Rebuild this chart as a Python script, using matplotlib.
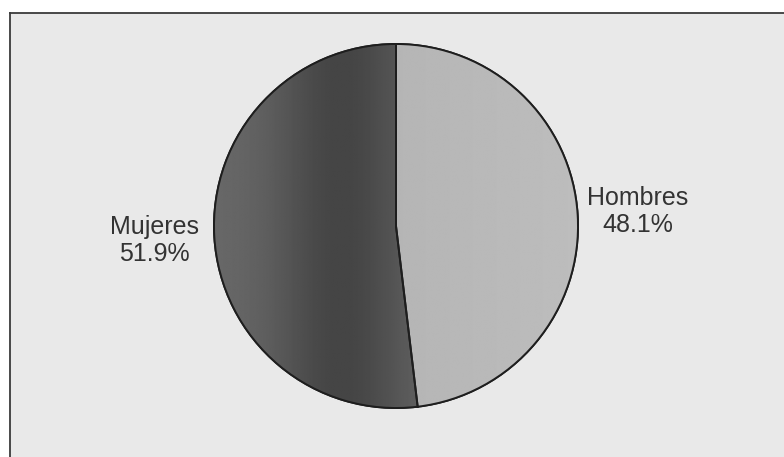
import matplotlib.pyplot as plt
import numpy as np

labels = ["Hombres", "Mujeres"]
values = [48.1, 51.9]
colors = ["#b6b6b6", "#555555"]

plt.rcParams["font.family"] = ["Liberation Sans", "DejaVu Sans"]

fig = plt.figure(figsize=(7.84, 4.57), dpi=100)
fig.patch.set_facecolor("white")

# gray panel with a border on top and left
panel = fig.add_axes([10 / 784, -0.01, 1.0, (457 - 13) / 457 + 0.01])
panel.set_facecolor("#e9e9e9")
panel.set_xticks([])
panel.set_yticks([])
for side in ["right", "bottom"]:
	panel.spines[side].set_visible(False)
for side in ["left", "top"]:
	panel.spines[side].set_linewidth(1.3)
	panel.spines[side].set_color("#3a3a3a")

ax = fig.add_axes([0, 0, 1, 1])
ax.set_xlim(0, 784)
ax.set_ylim(0, 457)
ax.set_aspect("equal")
ax.axis("off")
ax.patch.set_alpha(0)

cx, cy, r = 396, 231, 182
textLabels = ["%s\n%.1f%%" % (l, v) for l, v in zip(labels, values)]
wedges, texts = ax.pie(values, labels=textLabels, colors=colors, startangle=90,
	counterclock=False, center=(cx, cy), radius=r, labeldistance=1.33,
	wedgeprops=dict(edgecolor="#1e1e1e", linewidth=1.4),
	textprops=dict(fontsize=18, color="#333333", ha="center", linespacing=1.15))

# shading inside the wedges like the scanned original
xs = np.linspace(-1, 1, 300)
darkShade = 0.41 - 0.14 * np.exp(-((xs + 0.3) / 0.38) ** 2)
lightShade = 0.71 + 0.03 * xs
for w, shade in zip(wedges, [lightShade, darkShade]):
	img = np.tile(shade, (10, 1))
	im = ax.imshow(img, cmap="gray", vmin=0, vmax=1, extent=(cx - r, cx + r, cy - r, cy + r),
		aspect="auto", zorder=w.get_zorder() + 0.1, interpolation="bilinear")
	im.set_clip_path(w)
	edge = plt.matplotlib.patches.Wedge((cx, cy), r, w.theta1, w.theta2, fill=False,
		edgecolor="#1e1e1e", linewidth=1.4, zorder=w.get_zorder() + 0.2)
	ax.add_patch(edge)

ax.set_xlim(0, 784)
ax.set_ylim(0, 457)

fig.savefig("out.png", dpi=100)
